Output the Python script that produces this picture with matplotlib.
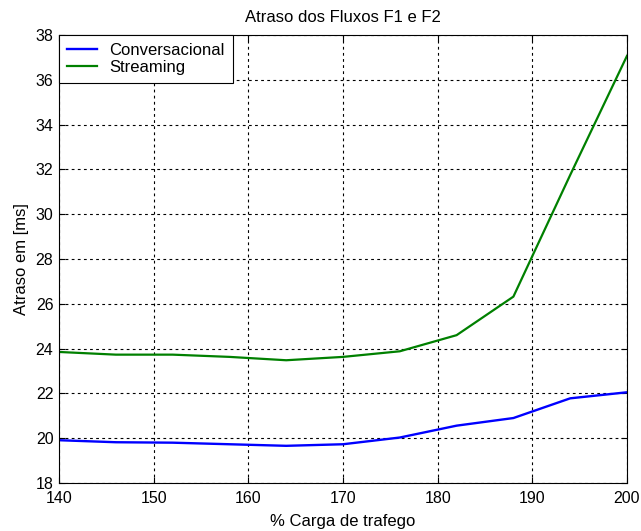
import matplotlib
matplotlib.use("Agg")
import numpy as np
from matplotlib import pyplot as plt

# data
carga = [140, 146, 152, 158, 164, 170, 176, 182, 188, 194, 200]
conversacional = [19.91, 19.82, 19.80, 19.73, 19.66, 19.73, 20.03, 20.56, 20.90, 21.78, 22.05]
streaming = [23.85, 23.73, 23.73, 23.63, 23.48, 23.63, 23.88, 24.60, 26.32, 31.75, 37.07]

plt.rcParams['font.family'] = ['Liberation Sans', 'DejaVu Sans']
plt.rcParams['font.size'] = 12

fig = plt.figure(figsize=(6.41, 5.31), dpi=100)
# axes box: x 59..627, y 35..483 px
ax = fig.add_axes([59 / 641, 48 / 531, 568 / 641, 448 / 531])

ax.plot(carga, conversacional, color='#0000ff', lw=1.7, label='Conversacional')
ax.plot(carga, streaming, color='#008000', lw=1.6, label='Streaming')

ax.set_xlim(140, 200)
ax.set_ylim(18, 38)
ax.set_xticks(np.arange(140, 201, 10))
ax.set_yticks(np.arange(18, 39, 2))
ax.tick_params(direction='in', top=True, right=True, length=4, labelsize=11.5)
ax.tick_params(axis='x', pad=6)
ax.tick_params(axis='y', pad=4)
ax.grid(True, color='black', linestyle=(0, (2.5, 3)), linewidth=0.8)
for s in ax.spines.values():
    s.set_linewidth(0.8)

ax.set_title('Atraso dos Fluxos F1 e F2', fontsize=12, pad=9.5)
ax.set_xlabel('% Carga de trafego', labelpad=5.5)
ax.set_ylabel('Atraso em [ms]', labelpad=5)

leg = ax.legend(loc='upper left', fancybox=False, edgecolor='black', framealpha=1,
                borderaxespad=0, handlelength=1.75, handletextpad=0.75,
                fontsize=12, borderpad=0.5, labelspacing=0.1)
leg.get_frame().set_linewidth(0.8)

fig.savefig('out.png', dpi=100)
